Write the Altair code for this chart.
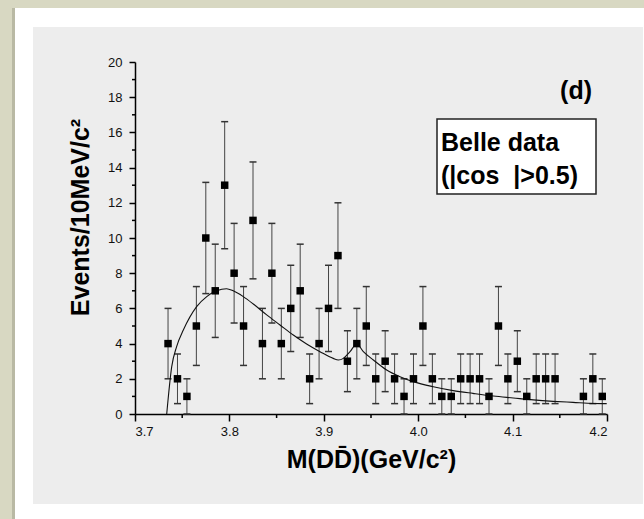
import altair as alt
import pandas as pd

# ---- data ----
mass = [3.735, 3.745, 3.755, 3.765, 3.775, 3.785, 3.795, 3.805, 3.815, 3.825,
        3.835, 3.845, 3.855, 3.865, 3.875, 3.885, 3.895, 3.905, 3.915, 3.925,
        3.935, 3.945, 3.955, 3.965, 3.975, 3.985, 3.995, 4.005, 4.015, 4.025,
        4.035, 4.045, 4.055, 4.065, 4.075, 4.085, 4.095, 4.105, 4.115, 4.125,
        4.135, 4.145, 4.175, 4.185, 4.195]
counts = [4, 2, 1, 5, 10, 7, 13, 8, 5, 11,
          4, 8, 4, 6, 7, 2, 4, 6, 9, 3,
          4, 5, 2, 3, 2, 1, 2, 5, 2, 1,
          1, 2, 2, 2, 1, 5, 2, 3, 1, 2,
          2, 2, 1, 2, 1]
errors = [2.0, 1.41, 1.0, 2.24, 3.16, 2.65, 3.61, 2.83, 2.24, 3.32,
          2.0, 2.83, 2.0, 2.45, 2.65, 1.41, 2.0, 2.45, 3.0, 1.73,
          2.0, 2.24, 1.41, 1.73, 1.41, 1.0, 1.41, 2.24, 1.41, 1.0,
          1.0, 1.41, 1.41, 1.41, 1.0, 2.24, 1.41, 1.73, 1.0, 1.41,
          1.41, 1.41, 1.0, 1.41, 1.0]

fit_mass = [3.7336, 3.7389, 3.7441, 3.7512, 3.7653, 3.776, 3.7865, 3.797, 3.804,
            3.8147, 3.8253, 3.8395, 3.8536, 3.8677, 3.8818, 3.896, 3.910, 3.9155,
            3.9207, 3.9278, 3.9348, 3.9419, 3.9525, 3.9666, 3.9807, 3.9948, 4.016,
            4.037, 4.058, 4.0796, 4.1007, 4.122, 4.143, 4.164, 4.1855, 4.1997]
fit_value = [0.0, 2.69, 3.83, 4.77, 6.1, 6.67, 7.0, 7.12, 7.0,
             6.67, 6.25, 5.63, 5.06, 4.49, 3.98, 3.54, 3.16, 3.07,
             3.16, 3.54, 3.98, 3.54, 3.07, 2.5, 2.12, 1.84, 1.55,
             1.33, 1.17, 1.02, 0.91, 0.8, 0.72, 0.66, 0.6, 0.59]

x_ticks = [3.7, 3.8, 3.9, 4.0, 4.1, 4.2]
x_minor = [3.75, 3.85, 3.95, 4.05, 4.15]
y_ticks = [0, 2, 4, 6, 8, 10, 12, 14, 16, 18, 20]
y_minor = [1, 3, 5, 7, 9, 11, 13, 15, 17, 19]

x_title = "M(D\u0044\u0304)(GeV/c\u00b2)"
y_title = "Events/10MeV/c\u00b2"
panel_label = "(d)"
legend_lines = ["Belle data", "(|cos\u00a0\u00a0|>0.5)"]

# ---- layout ----
W, H = 472, 352
PL, PT = 135, 62
FONT = "Liberation Sans"

df = pd.DataFrame({"m": mass, "n": counts, "e": errors})
df["lo"] = (df["n"] - df["e"]).clip(lower=0)
df["hi"] = df["n"] + df["e"]
fit = pd.DataFrame({"m": fit_mass, "v": fit_value})
one = pd.DataFrame({"k": [0]})

xs = alt.Scale(domain=[3.7, 4.2], nice=False, zero=False)
ys = alt.Scale(domain=[0, 20], nice=False)


def bg_rect(x0, x1, y0, y1, color):
    return alt.Chart(one).mark_rect(color=color, stroke=None).encode(
        x=alt.value(x0 - PL), x2=alt.value(x1 - PL),
        y=alt.value(y0 - PT), y2=alt.value(y1 - PT))


x_axis = alt.Axis(values=x_ticks, tickCount=len(x_ticks), format=".1f",
                  title=x_title, grid=False,
                  domainColor="black", domainWidth=1.5, tickColor="black",
                  tickWidth=1.5, tickSize=7, labelPadding=4, labelFontSize=13,
                  labelColor="#111", labelFont=FONT, titleFont=FONT,
                  titleFontSize=25, titleFontWeight="bold", titleColor="black",
                  titleY=53, titleBaseline="alphabetic", labelOverlap=False)
y_axis = alt.Axis(values=y_ticks, tickCount=len(y_ticks), title=y_title,
                  grid=False,
                  domainColor="black", domainWidth=1.5, tickColor="black",
                  tickWidth=1.5, tickSize=6, labelPadding=7, labelFontSize=13,
                  labelColor="#111", labelFont=FONT, titleFont=FONT,
                  titleFontSize=25, titleFontWeight="bold", titleColor="black",
                  titleAngle=-90, titleX=-47, titleY=155, titleAlign="center",
                  titleBaseline="alphabetic", labelOverlap=False)

bars = alt.Chart(df).mark_rule(color="#444", strokeWidth=1).encode(
    x=alt.X("m:Q", scale=xs, axis=x_axis),
    y=alt.Y("lo:Q", scale=ys, axis=y_axis),
    y2="hi:Q")
cap_hi = alt.Chart(df).mark_tick(orient="horizontal", size=7, thickness=1.5,
                                 color="#333", opacity=1).encode(
    x=alt.X("m:Q", scale=xs), y=alt.Y("hi:Q", scale=ys))
cap_lo = alt.Chart(df).mark_tick(orient="horizontal", size=7, thickness=1.5,
                                 color="#333", opacity=1).encode(
    x=alt.X("m:Q", scale=xs), y=alt.Y("lo:Q", scale=ys))
line = alt.Chart(fit).mark_line(color="#111", strokeWidth=1.1,
                                interpolate="monotone").encode(
    x=alt.X("m:Q", scale=xs), y=alt.Y("v:Q", scale=ys))
pts = alt.Chart(df).mark_square(size=56, color="black", opacity=1).encode(
    x=alt.X("m:Q", scale=xs), y=alt.Y("n:Q", scale=ys))

ymin = alt.Chart(pd.DataFrame({"t": y_minor})).mark_rule(
    color="black", strokeWidth=1.5).encode(
    y=alt.Y("t:Q", scale=ys), x=alt.value(-3), x2=alt.value(0))
xmin = alt.Chart(pd.DataFrame({"t": x_minor})).mark_rule(
    color="black", strokeWidth=1.5).encode(
    x=alt.X("t:Q", scale=xs), y=alt.value(H), y2=alt.value(H + 4))

box = alt.Chart(one).mark_rect(fill="white", stroke="#222", strokeWidth=1.5).encode(
    x=alt.value(437 - PL), x2=alt.value(596 - PL),
    y=alt.value(119 - PT), y2=alt.value(194 - PT))
lab_d = alt.Chart(one).mark_text(text=panel_label, font=FONT, fontSize=25,
                                 fontWeight="bold", align="right",
                                 baseline="alphabetic", color="black").encode(
    x=alt.value(592 - PL), y=alt.value(99 - PT))
leg1 = alt.Chart(one).mark_text(text=legend_lines[0], font=FONT, fontSize=25,
                                fontWeight="bold", align="left",
                                baseline="alphabetic", color="black").encode(
    x=alt.value(441 - PL), y=alt.value(151 - PT))
leg2 = alt.Chart(one).mark_text(text=legend_lines[1], font=FONT, fontSize=25,
                                fontWeight="bold", align="left",
                                baseline="alphabetic", color="black").encode(
    x=alt.value(441 - PL), y=alt.value(184 - PT))

frame_parts = [bg_rect(15, 644, 8, 27, "white"),
               bg_rect(15, 33, 8, 519, "white"),
               bg_rect(15, 644, 504, 519, "white"),
               bg_rect(643, 644, 8, 519, "white"),
               bg_rect(0, 14, 0, 519, "#d8d8c2"),
               bg_rect(0, 644, 0, 8, "#d8d8c2"),
               bg_rect(12, 15, 8, 519, "#b9b9a4")]

chart = alt.layer(bars, cap_hi, cap_lo, line, pts, ymin, xmin,
                  box, lab_d, leg1, leg2, *frame_parts).properties(
    width=W, height=H,
    autosize=alt.AutoSizeParams(type="none"),
    padding={"left": PL, "top": PT, "right": 644 - PL - W, "bottom": 519 - PT - H},
    background="#ededed",
).configure(font=FONT).configure_view(stroke=None)

chart.save("out.html", embed_options={"renderer": "svg", "actions": False})
